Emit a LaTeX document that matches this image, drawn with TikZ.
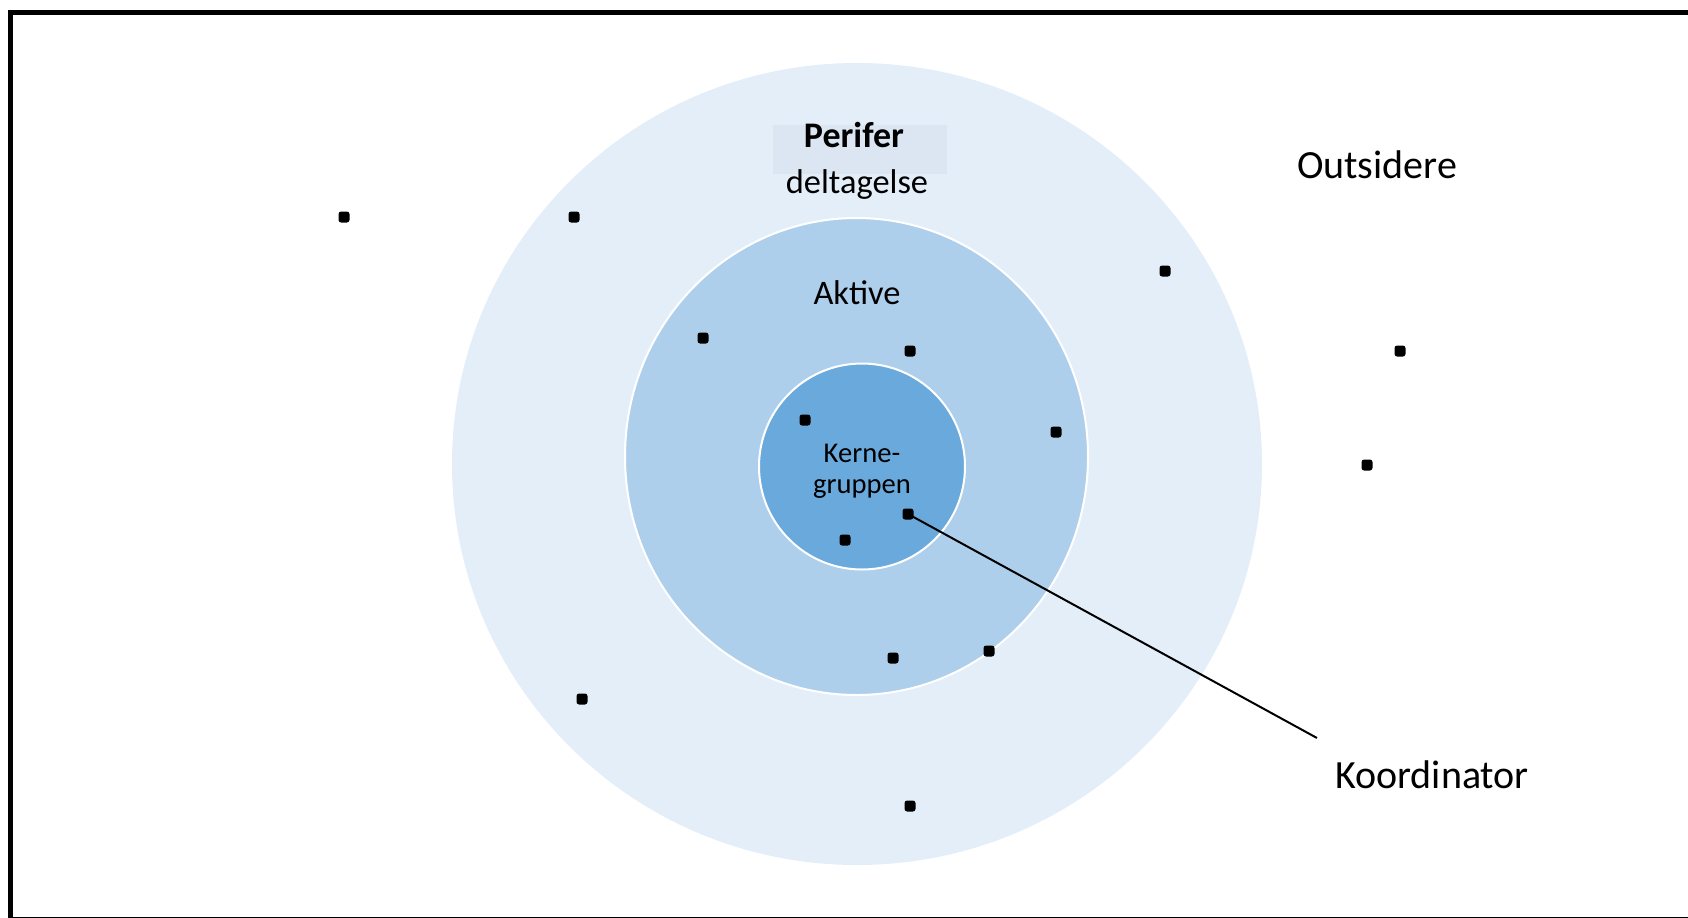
\documentclass[tikz,border=0pt]{standalone}
\usepackage{fontspec}
\setmainfont{Carlito}
\usetikzlibrary{calc}

\definecolor{ringouter}{HTML}{E4EEF8}
\definecolor{ringmiddle}{HTML}{AECFEB}
\definecolor{ringinner}{HTML}{6AA9DC}
\definecolor{labelbox}{HTML}{DCE6F2}

\tikzset{
  member/.style={rectangle,fill=black,minimum size=5.5pt,inner sep=0pt,rounded corners=1.3pt},
  ringtext/.style={anchor=base,inner sep=0pt,text=black},
}

\begin{document}
\begin{tikzpicture}[x=0.5pt,y=-0.5pt]

% Page size (pixels of the reference)
\def\W{1688}
\def\H{917}

\useasboundingbox (0,0) rectangle (\W,\H);
\clip (0,0) rectangle (\W,\H);

% Frame (right side runs off the page)
\draw[line width=2.5pt] (10,12) rectangle (1720,919);

% Centre of the rings
\def\cx{857}
\def\cy{464}

% Rings, largest first so they sit underneath
\fill[ringouter] (\cx,\cy) ellipse [x radius=405, y radius=401];
\filldraw[fill=ringmiddle,draw=white,line width=1pt] (856.5,456.5) ellipse [x radius=231.5, y radius=238.5];
\filldraw[fill=ringinner,draw=white,line width=1pt] (862,466.5) circle [radius=103];

% Box behind the outer ring label
\fill[labelbox] (773,125) rectangle (947,174);

% Ring labels
\node[ringtext,font=\fontsize{18}{22}\selectfont\bfseries] (perifer) at (854,147) {Perifer};
\node[ringtext,font=\fontsize{17.2}{21}\selectfont] (deltagelse) at (857,193) {deltagelse};
\node[ringtext,font=\fontsize{17.2}{21}\selectfont] (aktive) at (857,304) {Aktive};
\node[anchor=center,inner sep=0pt,align=center,font=\fontsize{14.3}{15.5}\selectfont] (kerne) at (862,471) {Kerne-\\gruppen};
\node[ringtext,font=\fontsize{20}{24}\selectfont] (outsidere) at (1377,178) {Outsidere};

% Members
\foreach \px/\py [count=\i] in {344/217,574/217,703/338,910/351,1165/271,1400/351,805/420,1056/432,1367/465,845/540,893/658,989/651,582/699,910/806}{
  \node[member] (m\i) at (\px,\py) {};
}

% The coordinator and its label
\node[member] (kdot) at (908,514) {};
\coordinate (kend) at (1317,738);
\draw[line width=1pt] (kdot.center) -- (kend);
\node[ringtext,font=\fontsize{20}{24}\selectfont] (koordinator) at (1432,788) {Koordinator};

\end{tikzpicture}
\end{document}
